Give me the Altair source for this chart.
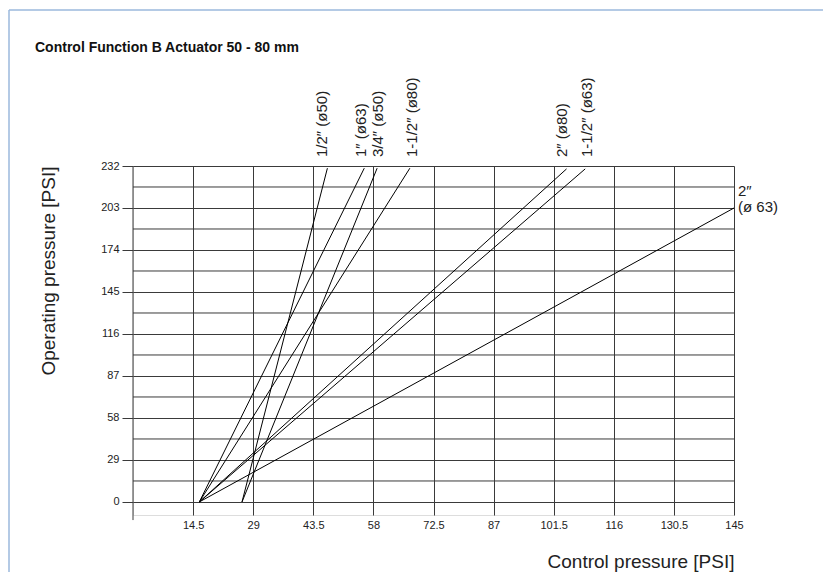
import altair as alt
import pandas as pd

# ---- data ----
series = ["1/2″ (ø50)", "3/4″ (ø50)", "1″ (ø63)", "1-1/2″ (ø80)",
          "2″ (ø80)", "1-1/2″ (ø63)", "2″ (ø 63)"]
x_start = [26.3, 26.3, 16.0, 16.0, 16.0, 16.0, 16.0]
y_start = [0, 0, 0, 0, 0, 0, 0]
x_end = [46.9, 58.9, 55.8, 66.8, 104.6, 109.1, 145.0]
y_end = [230.5, 230.5, 230.5, 230.5, 230.0, 230.0, 203.0]
# where the rotated labels sit along the control-pressure axis
label_x = [45.7, 59.2, 54.9, 67.2, 103.4, 109.5]

x_ticks = [14.5, 29, 43.5, 58, 72.5, 87, 101.5, 116, 130.5, 145]
y_ticks = [0, 29, 58, 87, 116, 145, 174, 203, 232]
y_minor = [14.5, 43.5, 72.5, 101.5, 130.5, 159.5, 188.5, 217.5]

title_text = "Control Function B  Actuator 50 - 80 mm"

FONT = "Liberation Sans"
GRID = "#3a3a3a"
TXT = "#222"

rows = []
for s, xs, ys, xe, ye in zip(series, x_start, y_start, x_end, y_end):
    rows.append({"series": s, "x": xs, "y": ys, "order": 0})
    rows.append({"series": s, "x": xe, "y": ye, "order": 1})
lines_df = pd.DataFrame(rows)

top_df = pd.DataFrame({"series": series[:-1], "x": label_x, "y": [232] * 6})
side_df = pd.DataFrame({"series": ["2″\n(ø 63)"], "x": [x_end[-1]], "y": [y_end[-1]]})
minor_df = pd.DataFrame({"y": y_minor, "x0": [0] * len(y_minor), "x1": [145] * len(y_minor)})
axis_df = pd.DataFrame({"x": [0], "y0": [-12.5], "y1": [232]})
title_df = pd.DataFrame({"t": [title_text]})

xscale = alt.Scale(domain=[0, 145], nice=False, zero=False)
yscale = alt.Scale(domain=[-9, 232], nice=False, zero=False)

LBL = "'' + datum.value"

base_x = alt.X("x:Q", scale=xscale,
               axis=alt.Axis(values=x_ticks, labelExpr=LBL, grid=True, gridColor=GRID,
                             gridOpacity=1, gridWidth=1, domain=False, ticks=False,
                             labelPadding=4, labelFontSize=11, labelFont=FONT,
                             labelColor=TXT,
                             title="Control pressure [PSI]", titleFont=FONT,
                             titleFontSize=19, titleFontWeight="normal",
                             titleColor=TXT, titleAnchor="end", titlePadding=22,
                             labelFlush=False))
base_y = alt.Y("y:Q", scale=yscale,
               axis=alt.Axis(values=y_ticks, labelExpr=LBL, grid=True, gridColor=GRID,
                             gridOpacity=1, gridWidth=1, domain=False, tickSize=11,
                             tickColor=GRID, labelPadding=3, labelFontSize=11,
                             labelFont=FONT, labelColor=TXT,
                             title="Operating pressure [PSI]", titleFont=FONT,
                             titleFontSize=19, titleFontWeight="normal",
                             titleColor=TXT, titleAnchor="end", titlePadding=42))

lines = alt.Chart(lines_df).mark_line(color="black", strokeWidth=1).encode(
    x=base_x, y=base_y, detail="series:N", order="order:Q")

minor = alt.Chart(minor_df).mark_rule(color=GRID, strokeWidth=1).encode(
    x=alt.X("x0:Q", scale=xscale), x2="x1:Q", y=alt.Y("y:Q", scale=yscale))

left_axis = alt.Chart(axis_df).mark_rule(color=GRID, strokeWidth=1).encode(
    x=alt.X("x:Q", scale=xscale), y=alt.Y("y0:Q", scale=yscale), y2="y1:Q")

top_labels = alt.Chart(top_df).mark_text(
    angle=270, align="left", baseline="middle", dx=9, fontSize=15, font=FONT,
    color=TXT).encode(
    x=alt.X("x:Q", scale=xscale), y=alt.Y("y:Q", scale=yscale), text="series:N")

side_label = alt.Chart(side_df).mark_text(
    align="left", baseline="middle", dx=4, dy=-17, fontSize=15, font=FONT,
    color=TXT, lineBreak="\n", lineHeight=16).encode(
    x=alt.X("x:Q", scale=xscale), y=alt.Y("y:Q", scale=yscale), text="series:N")

title = alt.Chart(title_df).mark_text(
    align="left", baseline="middle", fontSize=14, fontWeight="bold",
    font=FONT, color="#111").encode(
    x=alt.value(-98), y=alt.value(-118), text="t:N")

border_top = alt.Chart(axis_df).mark_rule(color="#9bb9dc", strokeWidth=1.5).encode(
    x=alt.value(-124), x2=alt.value(700), y=alt.value(-156))
border_left = alt.Chart(axis_df).mark_rule(color="#9bb9dc", strokeWidth=1.5).encode(
    x=alt.value(-124), y=alt.value(-156), y2=alt.value(420))

chart = alt.layer(minor, lines, left_axis, top_labels, side_label, title,
                  border_top, border_left).properties(
    width=601, height=349,
    autosize=alt.AutoSizeParams(type="none"),
    padding={"left": 125, "top": 158, "right": 89, "bottom": 57},
).configure_view(stroke=None).configure(background="white")

chart.save("out.html", embed_options={"renderer": "svg", "actions": False})
